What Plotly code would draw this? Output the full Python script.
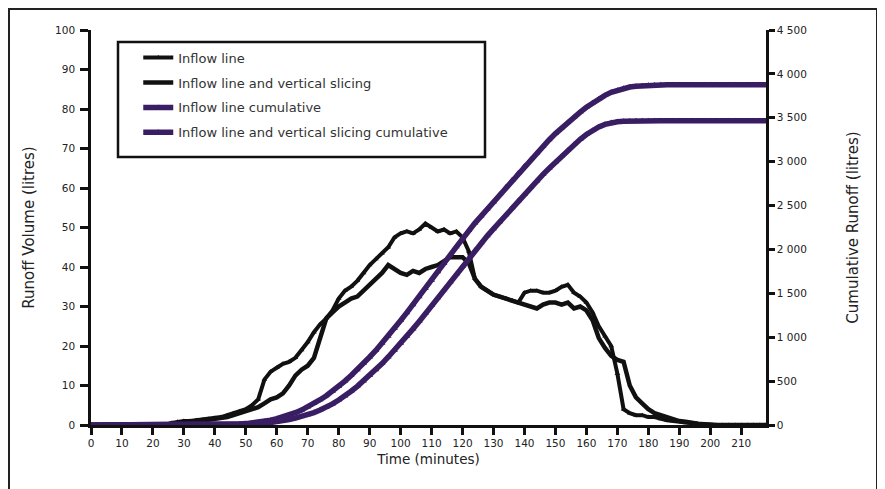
import plotly.graph_objects as go

# Time (minutes), one reading every 2 minutes
times = list(range(0, 220, 2))

# Runoff volume (litres) - inflow line
runoff_inflow = [
    0, 0, 0, 0, 0, 0, 0, 0, 0, 0,
    0, 0, 0, 0.5, 0.8, 1.0, 1.0, 1.2, 1.3, 1.5,
    1.8, 2.0, 2.5, 3.0, 3.5, 4.0, 5.0, 6.5, 11.5, 13.5,
    14.5, 15.5, 16.0, 17.0, 19.0, 21.0, 23.5, 25.5, 27.0, 29.0,
    32.0, 34.0, 35.0, 36.5, 38.5, 40.5, 42.0, 43.5, 45.0, 47.5,
    48.5, 49.0, 48.5, 49.5, 51.0, 50.0, 49.0, 49.5, 48.5, 49.0,
    47.5, 44.0, 37.0, 35.0, 34.0, 33.0, 32.5, 32.0, 31.5, 31.0,
    33.5, 34.0, 34.0, 33.5, 33.5, 34.0, 35.0, 35.5, 33.5, 32.5,
    31.0, 28.5, 25.0, 22.5, 20.0, 13.0, 4.0, 3.0, 2.5, 2.5,
    2.0, 2.0, 1.5, 1.2, 1.0, 0.8, 0.5, 0.5, 0.3, 0.2,
    0, 0, 0, 0, 0, 0, 0, 0, 0, 0,
]

# Runoff volume (litres) - inflow line and vertical slicing
runoff_slicing = [
    0, 0, 0, 0, 0, 0, 0, 0, 0, 0,
    0, 0, 0, 0.3, 0.5, 0.8, 0.8, 1.0, 1.2, 1.3,
    1.5, 1.8, 2.0, 2.5, 3.0, 3.5, 4.0, 4.5, 5.5, 6.5,
    7.0, 8.0, 10.0, 12.5, 14.0, 15.0, 17.0, 22.0, 27.0, 28.5,
    30.0, 31.0, 32.0, 32.5, 34.0, 35.5, 37.0, 38.5, 40.5, 39.5,
    38.5, 38.0, 39.0, 38.5, 39.5, 40.0, 40.5, 41.5, 42.5, 42.5,
    42.5, 41.0, 37.0, 35.0, 34.0, 33.0, 32.5, 32.0, 31.5, 31.0,
    30.5, 30.0, 29.5, 30.5, 31.0, 31.0, 30.5, 31.0, 29.5, 30.0,
    29.0, 26.5, 22.0, 19.5, 17.5, 16.5, 16.0, 10.0, 7.0, 5.5,
    4.0, 3.0, 2.5, 2.0, 1.5, 1.0, 0.8, 0.5, 0.3, 0.2,
    0, 0, 0, 0, 0, 0, 0, 0, 0, 0,
]

# Cumulative runoff (litres) - inflow line
cumulative_inflow = [
    0, 0, 0, 0, 0, 0, 0, 0, 0, 0,
    0, 0, 0, 0, 0, 0, 0, 0, 0, 0,
    0, 2, 4, 7, 11, 16, 22, 28, 40, 55,
    72, 92, 115, 140, 170, 205, 245, 288, 333, 385,
    440, 500, 565, 630, 700, 775, 850, 930, 1010, 1100,
    1190, 1280, 1370, 1460, 1555, 1650, 1745, 1840, 1935, 2030,
    2125, 2215, 2300, 2380, 2460, 2540, 2625, 2710, 2790, 2870,
    2950, 3025, 3100, 3175, 3250, 3320, 3385, 3445, 3505, 3565,
    3620, 3670, 3715, 3755, 3790, 3815, 3835, 3850, 3860, 3866,
    3870, 3873, 3875, 3875, 3875, 3875, 3875, 3875, 3875, 3875,
    3875, 3875, 3875, 3875, 3875, 3875, 3875, 3875, 3875, 3875,
]

# Cumulative runoff (litres) - inflow line and vertical slicing
cumulative_slicing = [
    0, 0, 0, 0, 0, 0, 0, 0, 0, 0,
    0, 0, 0, 0, 0, 0, 0, 0, 0, 0,
    0, 0, 0, 0, 2, 4, 7, 11, 17, 25,
    35, 48, 62, 78, 96, 118, 142, 170, 202, 240,
    285, 330, 385, 440, 500, 565, 630, 700, 775, 850,
    930, 1010, 1095, 1180, 1270, 1360, 1450, 1540, 1630, 1720,
    1810, 1900, 1990, 2075, 2155, 2235, 2315, 2395, 2475, 2555,
    2630, 2705, 2780, 2855, 2925, 2995, 3065, 3130, 3195, 3255,
    3310, 3355, 3395, 3425, 3445, 3455, 3460, 3463, 3465, 3465,
    3465, 3465, 3465, 3465, 3465, 3465, 3465, 3465, 3465, 3465,
    3465, 3465, 3465, 3465, 3465, 3465, 3465, 3465, 3465, 3465,
]

series_names = [
    "Inflow line",
    "Inflow line and vertical slicing",
    "Inflow line cumulative",
    "Inflow line and vertical slicing cumulative",
]

x_ticks = list(range(0, 220, 10))
y_ticks = list(range(0, 101, 10))
y2_ticks = list(range(0, 4501, 500))
y2_ticktext = ["0", "500", "1 000", "1 500", "2 000", "2 500", "3 000", "3 500", "4 000", "4 500"]

BLACK = "#111111"
PURPLE = "#3a1e63"
FONT = "DejaVu Sans, Verdana, sans-serif"

fig = go.Figure()
fig.add_trace(go.Scatter(
    x=times, y=runoff_inflow, name=series_names[0], mode="lines+markers",
    line=dict(color=BLACK, width=4), marker=dict(symbol="triangle-up", size=5, color=BLACK),
    legendgroup="a", yaxis="y"))
fig.add_trace(go.Scatter(
    x=times, y=runoff_slicing, name=series_names[1], mode="lines",
    line=dict(color=BLACK, width=4.5), legendgroup="b", yaxis="y"))
fig.add_trace(go.Scatter(
    x=times, y=cumulative_inflow, name=series_names[2], mode="lines+markers",
    line=dict(color=PURPLE, width=5.5), marker=dict(symbol="triangle-up", size=6, color=PURPLE),
    legendgroup="c", yaxis="y2"))
fig.add_trace(go.Scatter(
    x=times, y=cumulative_slicing, name=series_names[3], mode="lines+markers",
    line=dict(color=PURPLE, width=5.5), marker=dict(symbol="triangle-up", size=6, color=PURPLE),
    legendgroup="d", yaxis="y2"))

axis_font = dict(family=FONT, size=10.5, color="#222222")

# The page has an 8px body margin, so the margins are offset to place
# the plot area at x 91..766, y 30..425 in the window.
fig.update_layout(
    width=885, height=489,
    margin=dict(l=83, r=127, t=22, b=72, autoexpand=False),
    paper_bgcolor="white", plot_bgcolor="white",
    font=dict(family=FONT, size=11, color="#222222"),
    showlegend=True,
    legend=dict(
        x=0.07, y=0.968, xanchor="left", yanchor="top",
        bgcolor="rgba(0,0,0,0)", borderwidth=0,
        font=dict(family=FONT, size=13, color="#333333"),
        traceorder="grouped", tracegroupgap=5, itemwidth=30,
    ),
    xaxis=dict(
        range=[0, 218], tickmode="array", tickvals=x_ticks, ticktext=[str(v) for v in x_ticks],
        showline=True, linecolor=BLACK, linewidth=2.5, ticks="outside", ticklen=7, tickwidth=3,
        tickcolor=BLACK, showgrid=False, zeroline=False, tickfont=axis_font,
        title=dict(text="Time (minutes)", font=dict(size=13.5), standoff=7),
    ),
    yaxis=dict(
        range=[0, 100], tickmode="array", tickvals=y_ticks,
        showline=True, linecolor=BLACK, linewidth=2.5, ticks="outside", ticklen=8, tickwidth=3,
        tickcolor=BLACK, showgrid=False, zeroline=False, tickfont=axis_font,
        ticklabelstandoff=3,
        title=dict(text="Runoff Volume (litres)", font=dict(size=15), standoff=17),
    ),
    yaxis2=dict(
        range=[0, 4500], overlaying="y", side="right", tickmode="array",
        tickvals=y2_ticks, ticktext=y2_ticktext,
        showline=True, linecolor=BLACK, linewidth=2.5, ticks="outside", ticklen=6, tickwidth=3,
        tickcolor=BLACK, showgrid=False, zeroline=False, tickfont=axis_font,
        title=dict(text="Cumulative Runoff (litres)", font=dict(size=15), standoff=42),
    ),
    shapes=[
        # legend frame
        dict(type="rect", xref="paper", yref="paper",
             x0=(118 - 91) / 675, x1=(485 - 91) / 675,
             y0=(425 - 157) / 395, y1=(425 - 42) / 395,
             line=dict(color=BLACK, width=2.5), fillcolor="rgba(0,0,0,0)"),
        # outer chart frame
        dict(type="rect", xref="paper", yref="paper",
             x0=(9 - 91) / 675, x1=(877 - 91) / 675,
             y0=(425 - 500) / 395, y1=(425 - 9) / 395,
             line=dict(color="#222222", width=2), fillcolor="rgba(0,0,0,0)", layer="above"),
    ],
)

fig.write_html("out.html")
